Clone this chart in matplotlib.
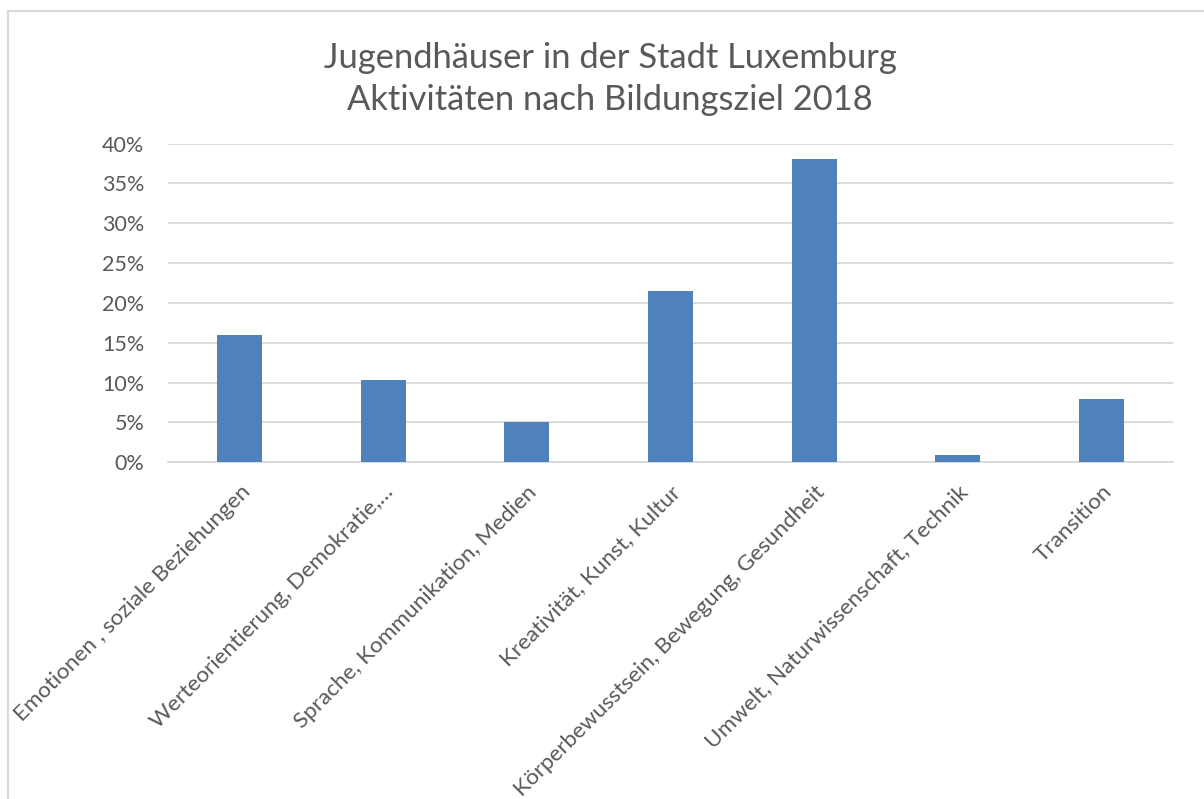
import matplotlib
matplotlib.use('Agg')
import matplotlib.pyplot as plt
from matplotlib.patches import Rectangle
from matplotlib.ticker import PercentFormatter

### data
categories = [
    'Emotionen , soziale Beziehungen',
    'Werteorientierung, Demokratie,\u2026',
    'Sprache, Kommunikation, Medien',
    'Kreativität, Kunst, Kultur',
    'Körperbewusstsein, Bewegung, Gesundheit',
    'Umwelt, Naturwissenschaft, Technik',
    'Transition',
]
shares = [0.16, 0.103, 0.05, 0.215, 0.38, 0.0095, 0.08]
title_lines = ['Jugendhäuser in der Stadt Luxemburg',
               'Aktivitäten nach Bildungsziel 2018']

plt.rcParams['font.family'] = ['Lato', 'DejaVu Sans']
txt = '#595959'
grid = '#D9D9D9'

fig = plt.figure(figsize=(12.04, 7.99), dpi=100)
ax = fig.add_axes([168 / 1204, 1 - 462.3 / 799, 1005 / 1204, 318.8 / 799])

x = range(len(categories))
ax.bar(x, shares, width=0.313, color='#4F81BD', zorder=3)

ax.set_xlim(-0.5, len(categories) - 0.5)
ax.set_ylim(0, 0.4)
ax.set_yticks([i * 0.05 for i in range(9)])
ax.yaxis.set_major_formatter(PercentFormatter(1.0, decimals=0))
ax.grid(axis='y', color=grid, linewidth=1.3, zorder=0)
for s in ['top', 'right', 'left']:
    ax.spines[s].set_visible(False)
ax.spines['bottom'].set_color(grid)
ax.spines['bottom'].set_linewidth(1.3)
ax.tick_params(axis='both', length=0, colors=txt)
ax.tick_params(axis='y', pad=17, labelsize=15.5)

ax.set_xticks(list(x))
ax.set_xticklabels(categories, rotation=45, ha='right', va='top',
                   rotation_mode='anchor', color=txt, fontsize=16.2)
ax.tick_params(axis='x', pad=14)

fig.text(610 / 1204, 1 - 58 / 799, title_lines[0], ha='center', va='center',
         color=txt, fontsize=24.8)
fig.text(610 / 1204, 1 - 100 / 799, title_lines[1], ha='center', va='center',
         color=txt, fontsize=24.8)

# chart frame (runs off the right and bottom edges)
fig.patches.append(Rectangle((8 / 1204, -0.05), 1.1, 1.05 - 11 / 799,
                             transform=fig.transFigure, fill=False,
                             edgecolor=grid, linewidth=1.5))

fig.savefig('out.png', dpi=100)
